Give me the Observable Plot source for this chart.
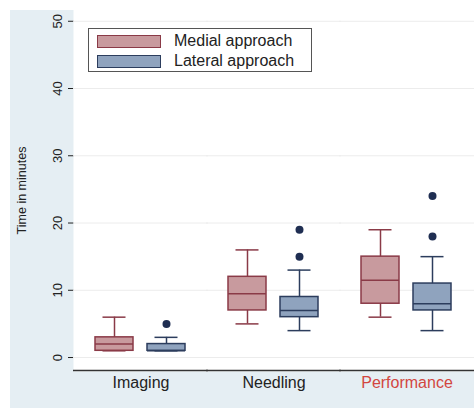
<!DOCTYPE html>
<html>
<head>
<meta charset="utf-8">
<script src="https://cdn.jsdelivr.net/npm/d3@7"></script>
<script src="https://cdn.jsdelivr.net/npm/@observablehq/plot@0.6"></script>
<style>
  html, body { margin: 0; padding: 0; background: #ffffff; }
  #wrap { position: relative; width: 474px; height: 408px; }
  #chart { position: absolute; left: 10px; top: 10px; }
  #legend {
    position: absolute; left: 88px; top: 28px; width: 222px; height: 42px;
    border: 1px solid #555; background: #fff;
    font-family: "Liberation Sans", Arial, sans-serif; font-size: 16px; color: #222;
  }
  .item { position: absolute; left: 8px; display: flex; align-items: center; }
  .sw { width: 62px; height: 11px; border: 1.5px solid; margin-right: 13px; }
</style>
</head>
<body>
<div id="wrap">
  <div id="chart"></div>
  <div id="legend"></div>
</div>
<script>
// ---- data ----
const groups = ["Imaging", "Needling", "Performance"];
const approaches = ["Medial approach", "Lateral approach"];

const medialLo  = [1, 5, 6];
const medialQ1  = [1, 7, 8];
const medialMed = [2, 9.5, 11.5];
const medialQ3  = [3, 12, 15];
const medialHi  = [6, 16, 19];

const lateralLo  = [1, 4, 4];
const lateralQ1  = [1, 6, 7];
const lateralMed = [1, 7, 8];
const lateralQ3  = [2, 9, 11];
const lateralHi  = [3, 13, 15];

const outlierGroup = ["Imaging", "Needling", "Needling", "Performance", "Performance"];
const outlierApproach = ["Lateral approach", "Lateral approach", "Lateral approach", "Lateral approach", "Lateral approach"];
const outlierValue = [5, 15, 19, 18, 24];

const yTicks = [0, 10, 20, 30, 40, 50];
const yMin = -1.93, yMax = 51.6;

const fills = ["#c89a9e", "#8fa3be"];
const strokes = ["#8a3a47", "#2c3d5d"];
const outlierColor = "#1f2e52";

// ---- build tables ----
const stats = [
  {lo: medialLo, q1: medialQ1, med: medialMed, q3: medialQ3, hi: medialHi},
  {lo: lateralLo, q1: lateralQ1, med: lateralMed, q3: lateralQ3, hi: lateralHi}
];
const boxesBy = approaches.map((a, k) => groups.map((g, i) => ({
  group: g, approach: a,
  lo: stats[k].lo[i], q1: stats[k].q1[i], med: stats[k].med[i], q3: stats[k].q3[i], hi: stats[k].hi[i]
})));
const outliers = outlierValue.map((v, i) => ({group: outlierGroup[i], approach: outlierApproach[i], value: v}));

const boxMarks = [];
approaches.forEach((a, k) => {
  const data = boxesBy[k];
  const st = strokes[k];
  boxMarks.push(
    Plot.ruleX(data, {x: "approach", fx: "group", y1: "lo", y2: "hi", stroke: st, strokeWidth: 1.5}),
    Plot.tickY(data, {x: "approach", fx: "group", y: "hi", stroke: st, strokeWidth: 1.5, insetLeft: 7.5, insetRight: 7.5}),
    Plot.tickY(data, {x: "approach", fx: "group", y: "lo", stroke: st, strokeWidth: 1.5, insetLeft: 7.5, insetRight: 7.5}),
    Plot.barY(data, {x: "approach", fx: "group", y1: "q1", y2: "q3", fill: fills[k], stroke: st, strokeWidth: 1.5}),
    Plot.tickY(data, {x: "approach", fx: "group", y: "med", stroke: st, strokeWidth: 1.5})
  );
});

const chart = Plot.plot({
  width: 464, height: 398,
  marginLeft: 63, marginRight: 0, marginTop: 0, marginBottom: 38,
  style: {background: "#e5eef3", fontFamily: "'Liberation Sans', Arial, sans-serif", fontSize: "13px", color: "#222"},
  fx: {domain: groups, paddingInner: 0, paddingOuter: 0, label: null, tickSize: 0, tickPadding: 6},
  x: {domain: approaches, paddingInner: 0.26, paddingOuter: 0.4, axis: null},
  y: {domain: [yMin, yMax], ticks: yTicks, tickRotate: -90, label: "Time in minutes", labelArrow: "none",
      labelAnchor: "center", labelOffset: 57, tickSize: 6, tickPadding: 7, line: true},
  marks: [
    Plot.frame({fill: "white", stroke: "white", strokeWidth: 2}),
    Plot.ruleY(yTicks, {stroke: "#ececec", insetLeft: -1, insetRight: -1}),
    Plot.ruleY([yMin], {stroke: "#333", strokeWidth: 1.5, insetLeft: -1, insetRight: -1}),
    ...boxMarks,
    Plot.dot(outliers, {x: "approach", fx: "group", y: "value", r: 4, fill: outlierColor, stroke: "none"})
  ]
});
document.getElementById("chart").appendChild(chart);

// post styling
const sel = d3.select(chart);
sel.selectAll('[aria-label="fx-axis tick label"] text, [aria-label="fx-axis tick label"]').style("font-size", "16px");
sel.selectAll("text").filter(function() { return this.textContent === "Performance"; }).attr("fill", "#d2463f");
sel.selectAll('[aria-label="y-axis label"] text, [aria-label="y-axis label"]').style("font-size", "12.5px");

// legend
const legend = document.getElementById("legend");
approaches.forEach((a, k) => {
  const it = document.createElement("div");
  it.className = "item";
  it.style.top = (k === 0 ? 3 : 23) + "px";
  const sw = document.createElement("div");
  sw.className = "sw";
  sw.style.background = fills[k];
  sw.style.borderColor = strokes[k];
  const tx = document.createElement("span");
  tx.textContent = a;
  it.appendChild(sw); it.appendChild(tx);
  legend.appendChild(it);
});
</script>
</body>
</html>
